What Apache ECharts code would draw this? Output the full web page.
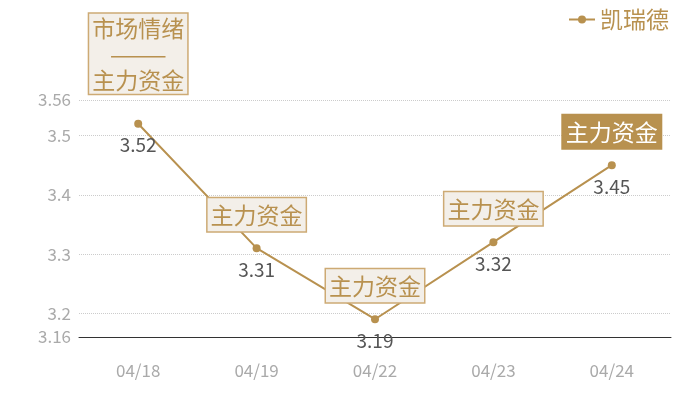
<!DOCTYPE html>
<html>
<head>
<meta charset="utf-8">
<script src="https://cdn.jsdelivr.net/npm/echarts@6/dist/echarts.min.js"></script>
<style>
html,body{margin:0;padding:0;background:#fff;}
#chartImg{width:700px;height:400px;}
</style>
</head>
<body>
<div id="chartImg"></div>
<script>
var categories = ["04/18","04/19","04/22","04/23","04/24"];
var values = [3.52, 3.31, 3.19, 3.32, 3.45];
var tags = ["市场情绪\n———\n主力资金", "主力资金", "主力资金", "主力资金", "主力资金"];
var highlightIndex = 4;

var gold = '#b8914f';
var font = '"Noto Sans CJK SC", "Noto Sans", sans-serif';

var marks = [];
for (var i = 0; i < categories.length; i++) {
    var hl = i === highlightIndex;
    marks.push({
        coord: [i, values[i]],
        label: {
            formatter: tags[i],
            distance: i === 0 ? 30 : 17,
            color: hl ? '#fff' : gold,
            backgroundColor: hl ? gold : '#f3efe9',
            borderColor: hl ? gold : '#cdaa74',
            borderWidth: 1.5,
            lineHeight: i === 0 ? 26 : 31
        }
    });
}

var myChart = echarts.init(document.getElementById('chartImg'));
var option = {
    textStyle: { fontFamily: font },
    legend: {
        right: 26,
        top: 3,
        itemWidth: 26,
        itemHeight: 10,
        itemGap: 4,
        textStyle: { color: gold, fontSize: 23, fontFamily: font },
        data: ['凯瑞德']
    },
    grid: {
        left: 79,
        right: 29,
        top: 100,
        bottom: 63
    },
    xAxis: {
        type: 'category',
        data: categories,
        axisLine: { lineStyle: { color: '#333', width: 1 } },
        axisTick: { show: false },
        axisLabel: { color: '#aaa', fontSize: 17, margin: 25 }
    },
    yAxis: {
        type: 'value',
        min: 3.16,
        max: 3.56,
        axisLine: { show: false },
        axisTick: { show: false },
        axisLabel: { color: '#aaa', fontSize: 17, margin: 8 },
        splitLine: { lineStyle: { color: '#ccc', type: 'dotted' } }
    },
    series: [
        {
            name: '凯瑞德',
            type: 'line',
            data: values,
            symbol: 'circle',
            symbolSize: 8,
            itemStyle: { color: gold },
            lineStyle: { color: gold, width: 2 },
            label: {
                show: true,
                position: 'bottom',
                distance: 8,
                color: '#555',
                fontSize: 19
            },
            markPoint: {
                symbol: 'circle',
                symbolSize: 0,
                label: {
                    show: true,
                    position: 'top',
                    fontSize: 23,
                    padding: [2, 3, 0, 3],
                    fontFamily: font
                },
                data: marks
            }
        }
    ]
};
myChart.setOption(option);
</script>
</body>
</html>
